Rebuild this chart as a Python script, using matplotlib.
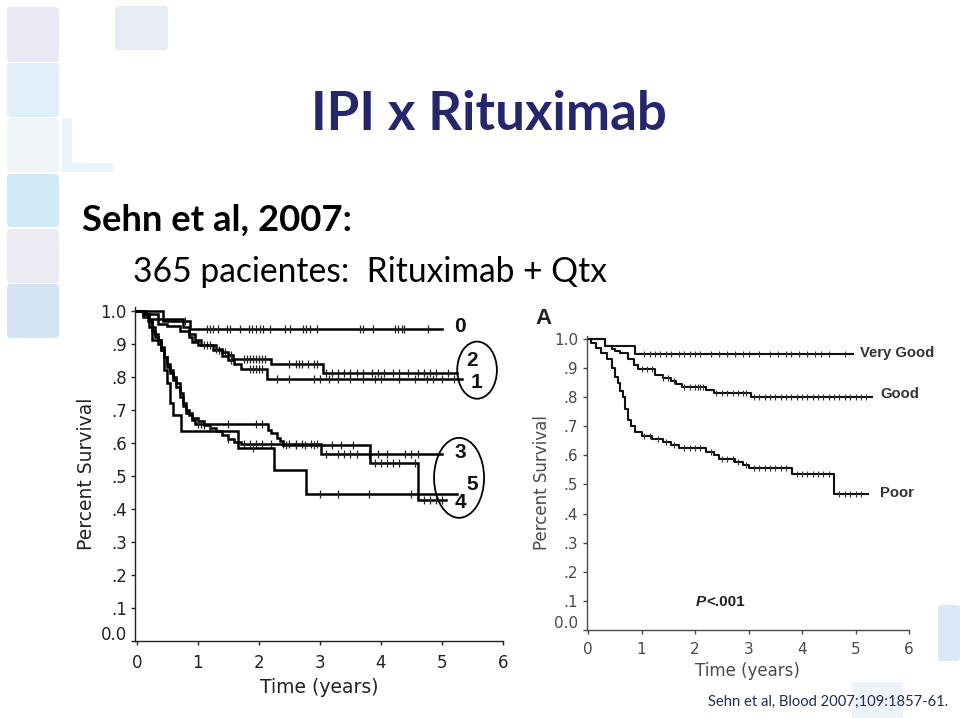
import numpy as np
import matplotlib
matplotlib.use("Agg")
import matplotlib.pyplot as plt
from matplotlib.patches import FancyBboxPatch, Ellipse, Rectangle
from matplotlib.transforms import ScaledTranslation

# ---------------- data: left panel (IPI 0-5) ----------------
ipi_labels = ["0", "1", "2", "3", "4", "5"]

ipi0_t = [0.43, 0.87]
ipi0_s = [0.970, 0.944]
ipi0_end = 5.0
ipi0_c = [0.79, 1.15, 1.2, 1.25, 1.33, 1.47, 1.53, 1.69, 1.83, 1.88, 1.96, 2.02, 2.07,
          2.18, 2.43, 2.51, 2.73, 2.78, 2.84, 2.95, 3.65, 3.71, 3.87, 4.23, 4.28,
          4.34, 4.38, 4.77]

ipi1_t = [0.10, 0.20, 0.35, 0.50, 0.70, 0.85, 0.90, 1.00, 1.25, 1.40, 1.50, 1.60,
          1.70, 2.13]
ipi1_s = [0.990, 0.975, 0.960, 0.955, 0.940, 0.920, 0.905, 0.895, 0.880, 0.862,
          0.850, 0.838, 0.824, 0.792]
ipi1_end = 5.33
ipi1_c = [1.15, 1.35, 1.55, 1.85, 1.9, 1.95, 2.0, 2.05, 2.3, 2.5, 2.9, 3.0, 3.15,
          3.3, 3.5, 3.7, 3.9, 4.0, 4.3, 4.55, 4.75, 4.85, 5.0, 5.2]

ipi2_t = [0.15, 0.35, 0.75, 0.85, 0.95, 1.05, 1.30, 1.40, 1.50, 1.58, 2.20, 3.05]
ipi2_s = [0.990, 0.975, 0.950, 0.930, 0.910, 0.895, 0.885, 0.875, 0.865, 0.853,
          0.839, 0.812]
ipi2_end = 5.24
ipi2_c = [1.1, 1.2, 1.3, 1.45, 1.55, 1.75, 1.8, 1.85, 1.9, 1.95, 2.0, 2.05, 2.1,
          2.5, 2.6, 2.65, 2.7, 2.8, 2.9, 2.95, 3.1, 3.2, 3.3, 3.4, 3.5, 3.6, 3.7,
          3.85, 3.95, 4.05, 4.2, 4.3, 4.45, 4.6, 4.7, 4.8, 4.9, 5.1]

ipi3_t = [0.12, 0.20, 0.25, 0.30, 0.35, 0.40, 0.45, 0.50, 0.55, 0.60, 0.65, 0.70,
          0.75, 0.80, 0.85, 0.90, 1.00, 1.10, 1.20, 1.30, 1.40, 1.50, 1.60, 1.70,
          3.02]
ipi3_s = [0.990, 0.970, 0.950, 0.930, 0.910, 0.890, 0.860, 0.840, 0.820, 0.800,
          0.780, 0.750, 0.720, 0.700, 0.685, 0.675, 0.665, 0.655, 0.645, 0.635,
          0.625, 0.612, 0.602, 0.596, 0.567]
ipi3_end = 5.0
ipi3_c = [1.0, 1.1, 1.2, 1.5, 1.75, 1.85, 1.95, 2.05, 2.2, 2.4, 2.5, 2.6, 2.7,
          2.85, 2.95, 3.1, 3.3, 3.4, 3.5, 3.6, 3.8, 3.95, 4.1, 4.4, 4.5, 4.6]

ipi4_t = [0.10, 0.18, 0.25, 0.30, 0.35, 0.40, 0.45, 0.50, 0.55, 0.60, 0.65, 0.70,
          0.75, 0.80, 0.90, 0.95, 2.15, 2.20, 2.30, 2.35, 2.40, 3.82, 4.60]
ipi4_s = [0.990, 0.970, 0.940, 0.920, 0.900, 0.880, 0.860, 0.830, 0.810, 0.790,
          0.770, 0.740, 0.710, 0.690, 0.670, 0.657, 0.640, 0.630, 0.615, 0.605,
          0.592, 0.538, 0.427]
ipi4_end = 5.07
ipi4_c = [1.0, 1.05, 1.5, 1.95, 2.05, 2.45, 2.6, 2.75, 2.9, 3.2, 3.35, 3.55, 3.9,
          4.0, 4.1, 4.2, 4.3, 4.55, 4.7, 4.8, 4.9, 5.0]

ipi5_t = [0.10, 0.20, 0.25, 0.40, 0.45, 0.50, 0.55, 0.60, 0.72, 1.65, 2.24, 2.78]
ipi5_s = [0.980, 0.950, 0.911, 0.880, 0.820, 0.780, 0.720, 0.685, 0.636, 0.585,
          0.518, 0.445]
ipi5_end = 5.24
ipi5_c = [1.9, 3.0, 3.3, 3.8, 4.5]

# ---------------- data: right panel (R-IPI) ----------------
ripi_labels = ["Very Good", "Good", "Poor"]

vg_t = [0.31, 0.87]
vg_s = [0.977, 0.947]
vg_end = 4.96
vg_c = [1.05, 1.15, 1.25, 1.35, 1.45, 1.55, 1.7, 1.8, 1.9, 2.0, 2.1, 2.3, 2.45,
        2.6, 2.75, 2.9, 3.0, 3.2, 3.4, 3.55, 3.7, 3.8, 3.95, 4.1, 4.25, 4.35, 4.5,
        4.8]

good_t = [0.31, 0.45, 0.50, 0.60, 0.75, 0.85, 0.93, 1.25, 1.40, 1.55, 1.65, 1.75,
          2.20, 2.35, 3.05]
good_s = [0.975, 0.965, 0.958, 0.950, 0.930, 0.910, 0.895, 0.875, 0.865, 0.855,
          0.845, 0.836, 0.825, 0.815, 0.802]
good_end = 5.31
good_c = [1.0, 1.1, 1.2, 1.4, 1.5, 1.6, 1.8, 1.9, 2.0, 2.05, 2.1, 2.15, 2.4, 2.5,
          2.6, 2.7, 2.8, 2.9, 2.95, 3.1, 3.2, 3.3, 3.4, 3.5, 3.6, 3.7, 3.8, 3.9,
          4.0, 4.1, 4.2, 4.3, 4.4, 4.5, 4.6, 4.7, 4.8, 4.9, 5.0, 5.1, 5.2]

poor_t = [0.06, 0.15, 0.25, 0.35, 0.44, 0.50, 0.55, 0.60, 0.65, 0.69, 0.75, 0.80,
          0.87, 1.00, 1.20, 1.40, 1.55, 1.70, 2.20, 2.35, 2.45, 2.75, 2.90, 3.00,
          3.82, 4.59]
poor_s = [0.985, 0.970, 0.950, 0.930, 0.900, 0.870, 0.850, 0.820, 0.800, 0.760,
          0.720, 0.700, 0.680, 0.667, 0.655, 0.645, 0.635, 0.624, 0.612, 0.600,
          0.586, 0.578, 0.568, 0.556, 0.537, 0.468]
poor_end = 5.23
poor_c = [1.05, 1.15, 1.3, 1.45, 1.6, 1.8, 1.9, 2.0, 2.1, 2.3, 2.5, 2.6, 2.7, 2.8,
          2.95, 3.1, 3.2, 3.3, 3.4, 3.5, 3.6, 3.7, 3.9, 4.0, 4.1, 4.2, 4.3, 4.4,
          4.5, 4.7, 4.8, 4.9, 5.0, 5.1]

y_ticks = [0.0, 0.1, 0.2, 0.3, 0.4, 0.5, 0.6, 0.7, 0.8, 0.9, 1.0]
y_tick_labels = ["0.0", ".1", ".2", ".3", ".4", ".5", ".6", ".7", ".8", ".9", "1.0"]
x_ticks = [0, 1, 2, 3, 4, 5, 6]

# ---------------- figure ----------------
fig = plt.figure(figsize=(9.6, 7.18), dpi=100)
fig.patch.set_facecolor("white")

bg = fig.add_axes([0, 0, 1, 1])
bg.set_xlim(0, 960)
bg.set_ylim(718, 0)
bg.axis("off")

# decorative squares
squares = [
    (7, 7, 52, 55, "#E9EAF5"), (7, 63, 52, 54, "#DFF0FA"), (7, 118, 52, 54, "#F0F5FA"),
    (7, 174, 52, 53, "#CFE9F7"), (7, 229, 52, 54, "#EBECF3"), (7, 284, 52, 54, "#D3E4F3"),
    (115, 6, 53, 44, "#E8EDF5"),
]
for x, y, w, h, c in squares:
    bg.add_patch(FancyBboxPatch((x + 4, y + 4), w - 8, h - 8,
                                boxstyle="round,pad=4", fc=c, ec="none"))
bg.add_patch(Rectangle((62, 118), 10, 54, fc="#EAF3FA", ec="none"))
bg.add_patch(Rectangle((62, 163), 51, 9, fc="#EAF3FA", ec="none"))
bg.add_patch(FancyBboxPatch((941, 608), 16, 50, boxstyle="round,pad=3",
                            fc="#DCE8F7", ec="none"))
bg.add_patch(Rectangle((852, 682), 51, 36, fc="#EEF3FA", ec="none"))

renderer = fig.canvas.get_renderer()


def fit_text(x, y, s, width, **kw):
    t = bg.text(x, y, s, fontsize=30, **kw)
    w = t.get_window_extent(renderer).width
    t.set_fontsize(30 * width / w)
    return t


fit_text(489, 130, "IPI x Rituximab", 356, ha="center", va="baseline",
         color="#25266E", family="Lato", fontweight="bold")
fit_text(82, 231, "Sehn et al, 2007:", 270, ha="left", va="baseline",
         color="black", family="Lato", fontweight="bold")
fit_text(133, 282, "365 pacientes:  Rituximab + Qtx", 474, ha="left", va="baseline",
         color="black", family="Lato")
fit_text(708, 706, "Sehn et al, Blood 2007;109:1857-61.", 240, ha="left",
         va="baseline", color="#1F2A5E", family="Lato")


def step_xy(t, s, end):
    x = np.concatenate([[0.0], t, [end]])
    y = np.concatenate([[1.0], s, [s[-1]]])
    return x, y


def censor_y(t, s, c):
    vals = np.concatenate([[1.0], s])
    return vals[np.searchsorted(t, c, side="right")]


def style_axes(ax, color, tsize, lab_size, xl_off, yl_off):
    ax.set_xlim(-0.03, 6.0)
    ax.set_ylim(0, 1.01)
    for sp in ["top", "right"]:
        ax.spines[sp].set_visible(False)
    for sp in ["left", "bottom"]:
        ax.spines[sp].set_color(color)
        ax.spines[sp].set_linewidth(1.0)
    ax.set_xticks(x_ticks)
    ax.set_yticks(y_ticks)
    ax.set_yticklabels(y_tick_labels)
    ax.tick_params(direction="out", length=3, width=1, colors=color,
                   labelsize=tsize, labelcolor=color)
    ax.tick_params(axis="x", pad=6)
    ax.tick_params(axis="y", pad=3)
    lbl = ax.get_yticklabels()[0]
    lbl.set_transform(lbl.get_transform() + ScaledTranslation(0, 6 / 72, fig.dpi_scale_trans))
    ax.set_xlabel("Time (years)", fontsize=lab_size, color=color, labelpad=xl_off)
    ax.set_ylabel("Percent Survival", fontsize=lab_size, color=color, labelpad=yl_off)
    ax.patch.set_alpha(0)


# ---------------- left panel ----------------
axL = fig.add_axes([135 / 960, 77 / 718, 368 / 960, 333.6 / 718])
style_axes(axL, "#222222", 12, 13.5, 5, 3)
left_curves = [
    (ipi0_t, ipi0_s, ipi0_end, ipi0_c), (ipi1_t, ipi1_s, ipi1_end, ipi1_c),
    (ipi2_t, ipi2_s, ipi2_end, ipi2_c), (ipi3_t, ipi3_s, ipi3_end, ipi3_c),
    (ipi4_t, ipi4_s, ipi4_end, ipi4_c), (ipi5_t, ipi5_s, ipi5_end, ipi5_c),
]
for t, s, end, c in left_curves:
    x, y = step_xy(np.array(t), np.array(s), end)
    axL.step(x, y, where="post", color="black", lw=1.8, solid_joinstyle="miter")
    axL.plot(c, censor_y(np.array(t), np.array(s), np.array(c)), ls="none",
             marker="|", ms=6, mew=0.9, color="#222222")

lab_pos = {"0": (5.30, 0.952), "2": (5.49, 0.849), "1": (5.57, 0.782),
           "3": (5.30, 0.570), "5": (5.50, 0.473), "4": (5.30, 0.419)}
for k in ipi_labels:
    xx, yy = lab_pos[k]
    axL.text(xx, yy, k, fontsize=15, fontweight="bold", family="Liberation Sans",
             ha="center", va="center", color="#111111")
axL.add_patch(Ellipse((5.575, 0.82), 0.65, 0.173, fill=False, ec="black", lw=1.3,
                      clip_on=False))
axL.add_patch(Ellipse((5.28, 0.494), 0.82, 0.242, fill=False, ec="black", lw=1.3,
                      clip_on=False))

# ---------------- right panel ----------------
axR = fig.add_axes([586.5 / 960, 88 / 718, 322.5 / 960, 294 / 718])
style_axes(axR, "#4a4a4a", 11, 12, 3, 2)
right_curves = [(vg_t, vg_s, vg_end, vg_c), (good_t, good_s, good_end, good_c),
                (poor_t, poor_s, poor_end, poor_c)]
for t, s, end, c in right_curves:
    x, y = step_xy(np.array(t), np.array(s), end)
    axR.step(x, y, where="post", color="#111111", lw=1.5)
    axR.plot(c, censor_y(np.array(t), np.array(s), np.array(c)), ls="none",
             marker="|", ms=4, mew=0.8, color="#333333")

rlab_pos = [(5.08, 0.952), (5.46, 0.811), (5.46, 0.470)]
for k, (xx, yy) in zip(ripi_labels, rlab_pos):
    axR.text(xx, yy, k, fontsize=10.7, fontweight="bold", family="Liberation Sans",
             ha="left", va="center", color="#333333")
axR.text(2.20, 0.096, "P", fontsize=11, fontweight="bold", fontstyle="italic",
         family="Liberation Sans", ha="right", va="center", color="#222222")
axR.text(2.22, 0.096, "<.001", fontsize=11, fontweight="bold",
         family="Liberation Sans", ha="left", va="center", color="#222222")
bg.text(543, 319, "A", fontsize=16, fontweight="bold", family="Liberation Sans",
        ha="center", va="center", color="#222222")

fig.savefig("out.png", dpi=100)
